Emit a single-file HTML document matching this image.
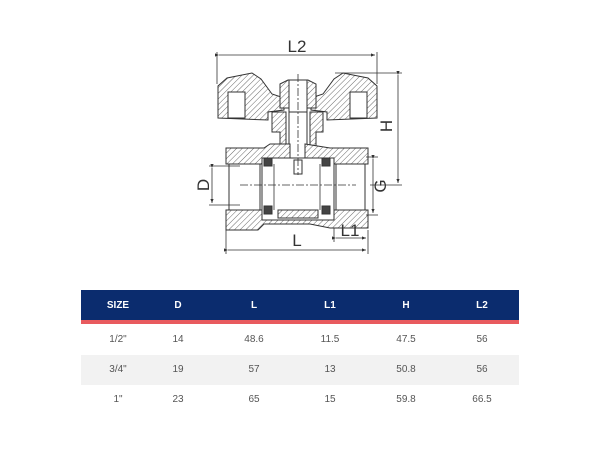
<!DOCTYPE html>
<html><head><style>
html,body{margin:0;padding:0;background:#fff;}
body{width:600px;height:450px;position:relative;overflow:hidden;font-family:"Liberation Sans",sans-serif;}
.hd{position:absolute;left:81px;top:290px;width:438px;height:30px;background:#0b2c6e;border-bottom:4px solid #e85a5e;}
.g{position:absolute;left:81px;top:355px;width:438px;height:30px;background:#f2f2f2;}
.t{position:absolute;width:80px;margin-left:-40px;text-align:center;font-size:10px;color:#555;line-height:12px;}
.w{color:#fff;font-weight:bold;}
</style></head><body>
<svg width="600" height="290" style="position:absolute;left:0;top:0" xmlns="http://www.w3.org/2000/svg">
<defs>
<pattern id="h" width="4" height="4" patternUnits="userSpaceOnUse" patternTransform="rotate(45)">
<rect width="4" height="4" fill="#fff"/><line x1="0" y1="0" x2="0" y2="4" stroke="#444" stroke-width="0.8"/>
</pattern>
<marker id="a" markerWidth="6" markerHeight="6" refX="5" refY="3" orient="auto"><path d="M0,1 L5,3 L0,5" fill="#333"/></marker>
</defs>
<g stroke="#333" stroke-width="1" fill="url(#h)">
<path d="M218,118 L218,86 L227,78 L252,73 L261,79 L272,94 L284,98 L284,110 L268,112 L268,120 Z"/>
<path d="M377,118 L377,86 L368,78 L343,73 L334,79 L323,94 L311,98 L311,110 L327,112 L327,120 Z"/>
<rect x="228" y="92" width="17" height="26" fill="#fff"/>
<rect x="350" y="92" width="17" height="26" fill="#fff"/>
<path d="M280,84 L288,80 L308,80 L316,84 L316,108 L280,108 Z"/>
<rect x="289" y="80" width="18" height="32" fill="#fff"/>
<path d="M272,112 L286,112 L286,152 L280,152 L280,132 L272,132 Z"/>
<path d="M323,112 L310,112 L310,152 L316,152 L316,132 L323,132 Z"/>
<rect x="289" y="112" width="18" height="55" fill="#fff"/>
<path d="M226,148 L264,148 L270,144 L290,144 L290,160 L305,160 L305,144 L330,148 L368,148 L368,164 L226,164 Z"/>
<path d="M226,210 L368,210 L368,228 L330,228 L310,224 L264,224 L258,230 L226,230 Z"/>
<rect x="229" y="164" width="31" height="46" fill="#fff"/>
<rect x="336" y="164" width="29" height="46" fill="#fff"/>
<rect x="262" y="158" width="72" height="62" fill="#fff"/>
<rect x="278" y="210" width="40" height="8"/>
<rect x="264" y="158" width="8" height="8" fill="#444"/>
<rect x="322" y="158" width="8" height="8" fill="#444"/>
<rect x="264" y="206" width="8" height="8" fill="#444"/>
<rect x="322" y="206" width="8" height="8" fill="#444"/>
<rect x="294" y="160" width="8" height="14" fill="#fff"/>
</g>
<g stroke="#333" stroke-width="0.8" fill="none">
<line x1="298" y1="74" x2="298" y2="175" stroke-dasharray="8,2,2,2"/>
<line x1="274" y1="164" x2="274" y2="210"/><line x1="320" y1="164" x2="320" y2="210"/>
<line x1="262" y1="164" x2="262" y2="210"/><line x1="334" y1="164" x2="334" y2="210"/>
<line x1="240" y1="185" x2="356" y2="185" stroke-dasharray="8,2,2,2"/>
<line x1="217" y1="52" x2="217" y2="84"/><line x1="377" y1="52" x2="377" y2="84"/>
<line x1="219" y1="55" x2="375" y2="55" marker-end="url(#a)" marker-start="url(#a)"/>
<line x1="335" y1="73" x2="402" y2="73"/><line x1="370" y1="185" x2="402" y2="185"/>
<line x1="398" y1="75" x2="398" y2="183" marker-end="url(#a)" marker-start="url(#a)"/>
<line x1="366" y1="157" x2="378" y2="157"/><line x1="366" y1="215" x2="378" y2="215"/>
<line x1="373" y1="159" x2="373" y2="213" marker-end="url(#a)" marker-start="url(#a)"/>
<line x1="209" y1="166" x2="240" y2="166"/><line x1="209" y1="205" x2="240" y2="205"/>
<line x1="212" y1="168" x2="212" y2="203" marker-end="url(#a)" marker-start="url(#a)"/>
<line x1="226" y1="230" x2="226" y2="254"/><line x1="368" y1="230" x2="368" y2="254"/>
<line x1="228" y1="250" x2="366" y2="250" marker-end="url(#a)" marker-start="url(#a)"/>
<line x1="334" y1="228" x2="334" y2="242"/>
<line x1="336" y1="238" x2="366" y2="238" marker-end="url(#a)" marker-start="url(#a)"/>
</g>
<g font-family="Liberation Sans,sans-serif" font-size="17" fill="#333">
<text x="297" y="52" text-anchor="middle">L2</text>
<text x="297" y="246" text-anchor="middle">L</text>
<text x="350" y="236" text-anchor="middle">L1</text>
<text transform="translate(392,126) rotate(-90)" text-anchor="middle">H</text>
<text transform="translate(386,186) rotate(-90)" text-anchor="middle">G</text>
<text transform="translate(209,185) rotate(-90)" text-anchor="middle">D</text>
</g>
</svg>
<div class="hd"></div><div class="g"></div>
<div class="t w" style="left:118px;top:300px">SIZE</div>
<div class="t w" style="left:178px;top:300px">D</div>
<div class="t w" style="left:254px;top:300px">L</div>
<div class="t w" style="left:330px;top:300px">L1</div>
<div class="t w" style="left:406px;top:300px">H</div>
<div class="t w" style="left:482px;top:300px">L2</div>

<div class="t" style="left:118px;top:334px">1/2"</div>
<div class="t" style="left:178px;top:334px">14</div>
<div class="t" style="left:254px;top:334px">48.6</div>
<div class="t" style="left:330px;top:334px">11.5</div>
<div class="t" style="left:406px;top:334px">47.5</div>
<div class="t" style="left:482px;top:334px">56</div>

<div class="t" style="left:118px;top:364px">3/4"</div>
<div class="t" style="left:178px;top:364px">19</div>
<div class="t" style="left:254px;top:364px">57</div>
<div class="t" style="left:330px;top:364px">13</div>
<div class="t" style="left:406px;top:364px">50.8</div>
<div class="t" style="left:482px;top:364px">56</div>

<div class="t" style="left:118px;top:394px">1"</div>
<div class="t" style="left:178px;top:394px">23</div>
<div class="t" style="left:254px;top:394px">65</div>
<div class="t" style="left:330px;top:394px">15</div>
<div class="t" style="left:406px;top:394px">59.8</div>
<div class="t" style="left:482px;top:394px">66.5</div>
</body></html>
